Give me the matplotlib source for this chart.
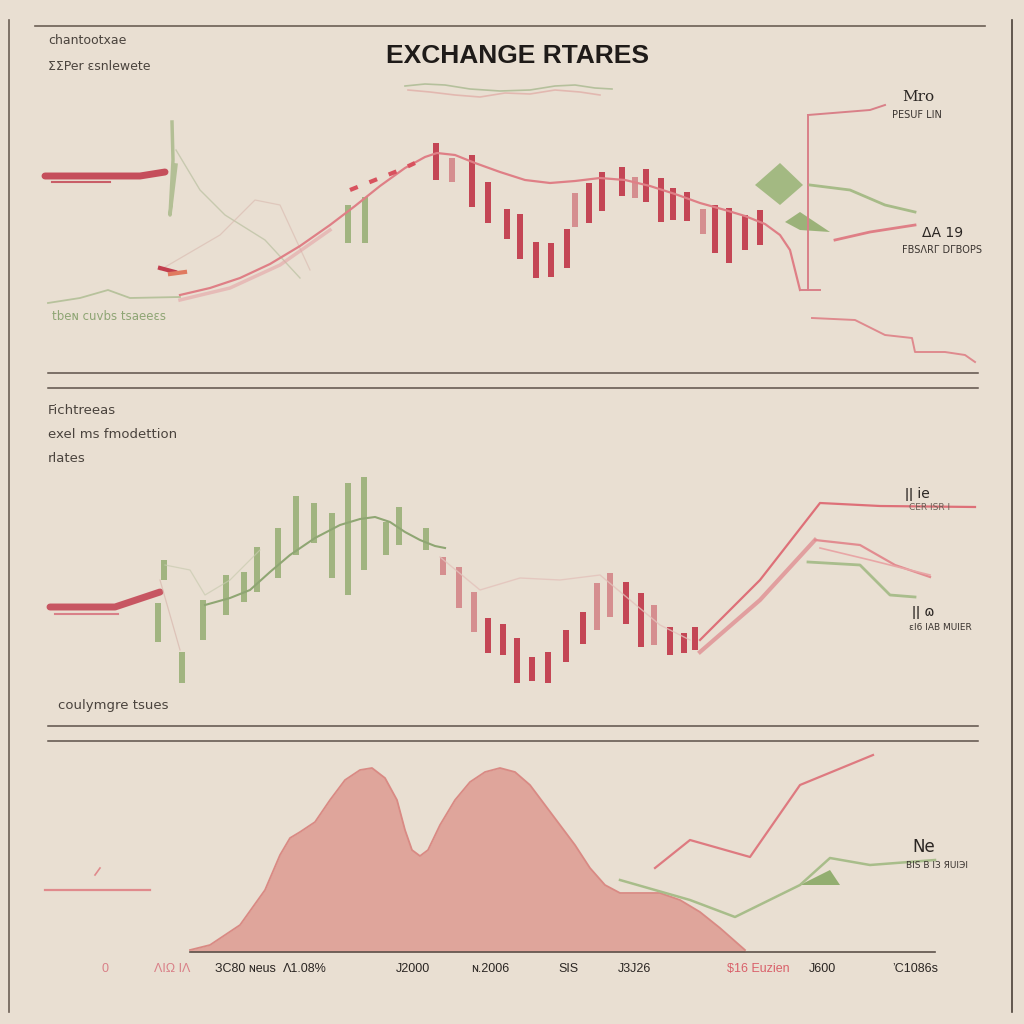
import numpy as np
import matplotlib.pyplot as plt

# colours
BG = "#e9dfd2"
RED = "#c23e4e"
LRED = "#d98088"
GREEN = "#9db27c"
INK = "#2b2623"

# ---------------- top panel data (x = position, y = level, screen units)
top_x = [436, 452, 472, 488, 507, 520, 536, 551, 567, 575, 589, 602, 622, 635, 646,
         661, 673, 687, 703, 715, 729, 745, 760]
top_hi = [143, 158, 155, 182, 209, 214, 242, 243, 229, 193, 183, 172, 167, 177, 169,
          178, 188, 192, 209, 205, 208, 215, 210]
top_lo = [180, 182, 207, 223, 239, 259, 278, 277, 268, 227, 223, 211, 196, 198, 202,
          222, 220, 221, 234, 253, 263, 250, 245]
top_fade = [0, 1, 0, 0, 0, 0, 0, 0, 0, 1, 0, 0, 0, 1, 0, 0, 0, 0, 1, 0, 0, 0, 0]
top_green_x = [348, 365]
top_green_hi = [205, 197]
top_green_lo = [243, 243]

top_trend_x = [180, 210, 240, 270, 300, 330, 355, 380, 405, 425, 437, 455, 475, 500,
               525, 550, 575, 600, 625, 650, 675, 700, 725, 745, 765, 780, 790, 795, 800]
top_trend_y = [295, 288, 278, 264, 246, 225, 206, 186, 168, 157, 153, 155, 163, 172,
               180, 183, 181, 178, 180, 186, 194, 203, 210, 216, 224, 235, 250, 270, 290]

top_base_x = [48, 80, 108, 130, 180]
top_base_y = [303, 298, 290, 298, 297]

# ---------------- middle panel data
mid_green_x = [164, 158, 182, 203, 226, 244, 257, 278, 296, 314, 332, 348, 364, 386, 399, 426]
mid_green_hi = [560, 603, 652, 600, 575, 572, 547, 528, 496, 503, 513, 483, 477, 522, 507, 528]
mid_green_lo = [580, 642, 683, 640, 615, 602, 592, 578, 555, 543, 578, 595, 570, 555, 545, 550]

mid_red_x = [443, 459, 474, 488, 503, 517, 532, 548, 566, 583, 597, 610, 626, 641, 654, 670, 684, 695]
mid_red_hi = [557, 567, 592, 618, 624, 638, 657, 652, 630, 612, 583, 573, 582, 593, 605, 627, 633, 627]
mid_red_lo = [575, 608, 632, 653, 655, 683, 681, 683, 662, 644, 630, 617, 624, 647, 645, 655, 653, 650]
mid_red_fade = [1, 1, 1, 0, 0, 0, 0, 0, 0, 0, 1, 1, 0, 0, 1, 0, 0, 0]

mid_trend_x = [205, 230, 250, 270, 290, 315, 340, 360, 375, 390, 405, 420, 435, 445]
mid_trend_y = [605, 598, 590, 572, 555, 538, 525, 519, 517, 522, 532, 540, 546, 548]

# ---------------- bottom panel data
area_x = [190, 210, 240, 265, 280, 290, 300, 315, 330, 345, 360, 372, 385, 397, 405,
          412, 420, 428, 440, 455, 470, 485, 500, 515, 530, 545, 560, 575, 590, 605,
          620, 640, 660, 680, 700, 720, 745]
area_y = [950, 945, 925, 890, 855, 838, 832, 822, 800, 780, 770, 768, 778, 800, 830,
          850, 856, 850, 825, 800, 782, 772, 768, 772, 785, 805, 825, 845, 868, 885,
          893, 893, 893, 900, 912, 928, 950]
bot_red_x = [655, 690, 750, 800, 873]
bot_red_y = [868, 840, 857, 785, 755]
bot_green_x = [620, 690, 735, 800, 830, 870, 935]
bot_green_y = [880, 900, 917, 885, 858, 865, 860]

tick_pos = [105, 172, 245, 305, 413, 490, 568, 635, 758, 822, 915]
tick_labels = ["0", "ΛIΩ IΛ", "ЗC80 ɴeus", "Λ1.08%", "J2000", "ɴ.2006", "SIS",
               "J3Ј26", "$16 Euzien", "J600", "ʼC1086s"]
tick_colors = [LRED, LRED, INK, INK, INK, INK, INK, INK, "#d9606a", INK, INK]

fig = plt.figure(figsize=(10.24, 10.24), dpi=100)
fig.patch.set_facecolor(BG)
ax = fig.add_axes([0, 0, 1, 1])
ax.set_xlim(0, 1024)
ax.set_ylim(1024, 0)
ax.axis("off")
ax.set_facecolor(BG)


def candles(xs, hi, lo, color, fade=None, width=5.5):
    for i in range(len(xs)):
        a = 0.5 if (fade and fade[i]) else 0.95
        ax.bar(xs[i], lo[i] - hi[i], bottom=hi[i], width=width, color=color,
               alpha=a, linewidth=0)


# frame and separators
ax.plot([9, 9], [20, 1012], color="#6b5f55", lw=1.2)
ax.plot([1012, 1012], [20, 1012], color="#4a4038", lw=1.2)
ax.plot([35, 985], [26, 26], color="#6b5f55", lw=1.2)
for yy in [373, 388, 726, 741]:
    ax.plot([48, 978], [yy, yy], color="#5d524a", lw=1.1)
ax.plot([190, 935], [952, 952], color="#5d524a", lw=1.2)

# ---------------- top panel
ax.text(48, 41, "chantootxae", fontsize=9, color="#4a433d", va="center")
ax.text(48, 66, "ΣΣPer ɛsnlewete", fontsize=9, color="#4a433d", va="center")
ax.text(518, 56, "EXCHANGE RTARES", fontsize=19, fontweight="bold", color="#1f1b19",
        ha="center", va="center", family="Liberation Sans")
ax.plot([405, 425, 445, 470, 500, 530, 555, 575, 595, 612], [86, 84, 85, 89, 91, 90, 86, 85, 88, 89],
        color="#a8b98f", lw=1.2, alpha=0.8)
ax.plot([408, 430, 455, 480, 505, 530, 555, 580, 600], [90, 92, 95, 97, 93, 94, 90, 92, 95],
        color="#e0a8a2", lw=1.2, alpha=0.7)

ax.plot([45, 140, 165], [176, 176, 172], color=RED, lw=5, solid_capstyle="round", alpha=0.9)
ax.plot([52, 110], [182, 182], color=RED, lw=1.5, alpha=0.8)
ax.plot([172, 173, 170, 176], [122, 160, 215, 165], color=GREEN, lw=2.5, alpha=0.7)
ax.plot([176, 200, 225, 265, 300], [150, 190, 215, 240, 278], color="#b9c0a0", lw=1, alpha=0.7)
ax.plot([160, 220, 255, 280, 310], [270, 235, 200, 205, 270], color="#d9b8ae", lw=0.9, alpha=0.6)
ax.plot([160, 175], [268, 272], color=RED, lw=3)
ax.plot([170, 185], [274, 272], color="#e07a60", lw=3)
ax.plot(top_base_x, top_base_y, color="#b7c29c", lw=1.3)
ax.plot(top_trend_x, top_trend_y, color="#df7f86", lw=1.6)
ax.plot([180, 230, 280, 330], [300, 288, 265, 230], color="#e4a3a6", lw=2.5, alpha=0.6)
ax.plot([350, 380, 400, 415], [190, 178, 170, 163], color="#d8525e", lw=3, ls=(0, (2, 3)))
candles(top_x, top_hi, top_lo, RED, top_fade)
candles(top_green_x, top_green_hi, top_green_lo, GREEN)

ax.fill([755, 780, 803, 780], [185, 163, 185, 205], color="#9cb57a", alpha=0.9, lw=0)
ax.fill([785, 800, 830, 800], [222, 212, 232, 230], color="#93ae70", alpha=0.9, lw=0)
ax.plot([808, 808], [115, 290], color=LRED, lw=1.4)
ax.plot([808, 870, 885], [115, 110, 105], color=LRED, lw=1.4)
ax.plot([800, 820], [290, 290], color=LRED, lw=1.4)
ax.plot([810, 850, 885, 915], [185, 190, 205, 212], color="#a7bb88", lw=2)
ax.plot([835, 870, 915], [240, 232, 225], color="#df7f86", lw=2)
ax.plot([812, 855, 885, 912, 915, 945, 965, 975], [318, 320, 335, 338, 352, 352, 355, 362],
        color="#df8a8e", lw=1.4)
ax.text(52, 316, "tbeɴ cuvbs tsaeeɛs", fontsize=8.5, color="#8ea574", va="center")
ax.text(902, 97, "Mro", fontsize=11, color=INK, va="center", family="DejaVu Serif")
ax.text(917, 115, "PESUF LIN", fontsize=7, color="#3a3430", va="center", ha="center")
ax.text(922, 233, "ΔA 19", fontsize=10, color=INK, va="center")
ax.text(942, 250, "FBSΛRΓ DΓBOPS", fontsize=7, color="#3a3430", va="center", ha="center")

# ---------------- middle panel
ax.text(48, 410, "Fichtreeas", fontsize=9.5, color="#4a433d", va="center")
ax.text(48, 435, "exel ms fmodettion", fontsize=9.5, color="#4a433d", va="center")
ax.text(48, 458, "rlates", fontsize=9.5, color="#4a433d", va="center")
ax.plot([50, 115, 160], [607, 607, 592], color=RED, lw=5, solid_capstyle="round", alpha=0.85)
ax.plot([55, 118], [614, 614], color=LRED, lw=1.5)
ax.plot([165, 190, 205, 230, 260], [565, 570, 595, 580, 550], color="#c9cbb0", lw=0.9, alpha=0.7)
ax.plot([160, 180], [580, 650], color="#d8b7ad", lw=0.9, alpha=0.7)
ax.plot(mid_trend_x, mid_trend_y, color="#8fa673", lw=1.5)
candles(mid_green_x, mid_green_hi, mid_green_lo, GREEN)
ax.plot([440, 480, 520, 560, 600, 630, 660, 690], [557, 590, 578, 580, 575, 600, 625, 640],
        color="#e3c2bb", lw=1, alpha=0.8)
candles(mid_red_x, mid_red_hi, mid_red_lo, RED, mid_red_fade)
ax.plot([700, 760, 820, 880, 975], [640, 580, 503, 506, 507], color="#de7078", lw=1.6)
ax.plot([700, 760, 815], [652, 600, 540], color="#e08f93", lw=3, alpha=0.8)
ax.plot([815, 860, 895, 930], [540, 545, 565, 577], color="#e28c90", lw=1.6)
ax.plot([820, 870, 930], [548, 560, 575], color="#e8a6a6", lw=1.2)
ax.plot([808, 860, 890, 915], [562, 565, 595, 597], color="#a9bd8c", lw=2)
ax.text(58, 705, "coulymgre tsues", fontsize=9.5, color="#4a433d", va="center")
ax.text(905, 494, "ǀǀ ie", fontsize=10, color=INK, va="center")
ax.text(930, 507, "CER ISR I", fontsize=6.5, color="#6b5f55", va="center", ha="center")
ax.text(912, 612, "ǀǀ ɷ", fontsize=10, color=INK, va="center")
ax.text(940, 628, "εI6 IAB MUIER", fontsize=6.5, color="#3a3430", va="center", ha="center")

# ---------------- bottom panel
ax.fill_between(area_x, area_y, 952, color="#dfa59b", lw=0)
ax.plot(area_x, area_y, color="#d98a84", lw=1.3)
ax.plot([45, 150], [890, 890], color="#e08a8c", lw=1.6)
ax.plot([95, 100], [875, 868], color="#e08a8c", lw=1.2)
ax.plot(bot_red_x, bot_red_y, color="#de7a80", lw=1.6)
ax.plot(bot_green_x, bot_green_y, color="#a8bd8a", lw=1.8)
ax.fill([800, 830, 840], [885, 870, 885], color="#93ae70", lw=0)
ax.text(912, 847, "Ne", fontsize=12, color=INK, va="center")
ax.text(937, 866, "BIS B IЗ ЯUIЭI", fontsize=6.5, color="#3a3430", va="center", ha="center")

for p, lab, c in zip(tick_pos, tick_labels, tick_colors):
    ax.text(p, 969, lab, fontsize=9, color=c, ha="center", va="center",
            family="Liberation Sans")

fig.savefig("out.png", dpi=100, facecolor=BG)
